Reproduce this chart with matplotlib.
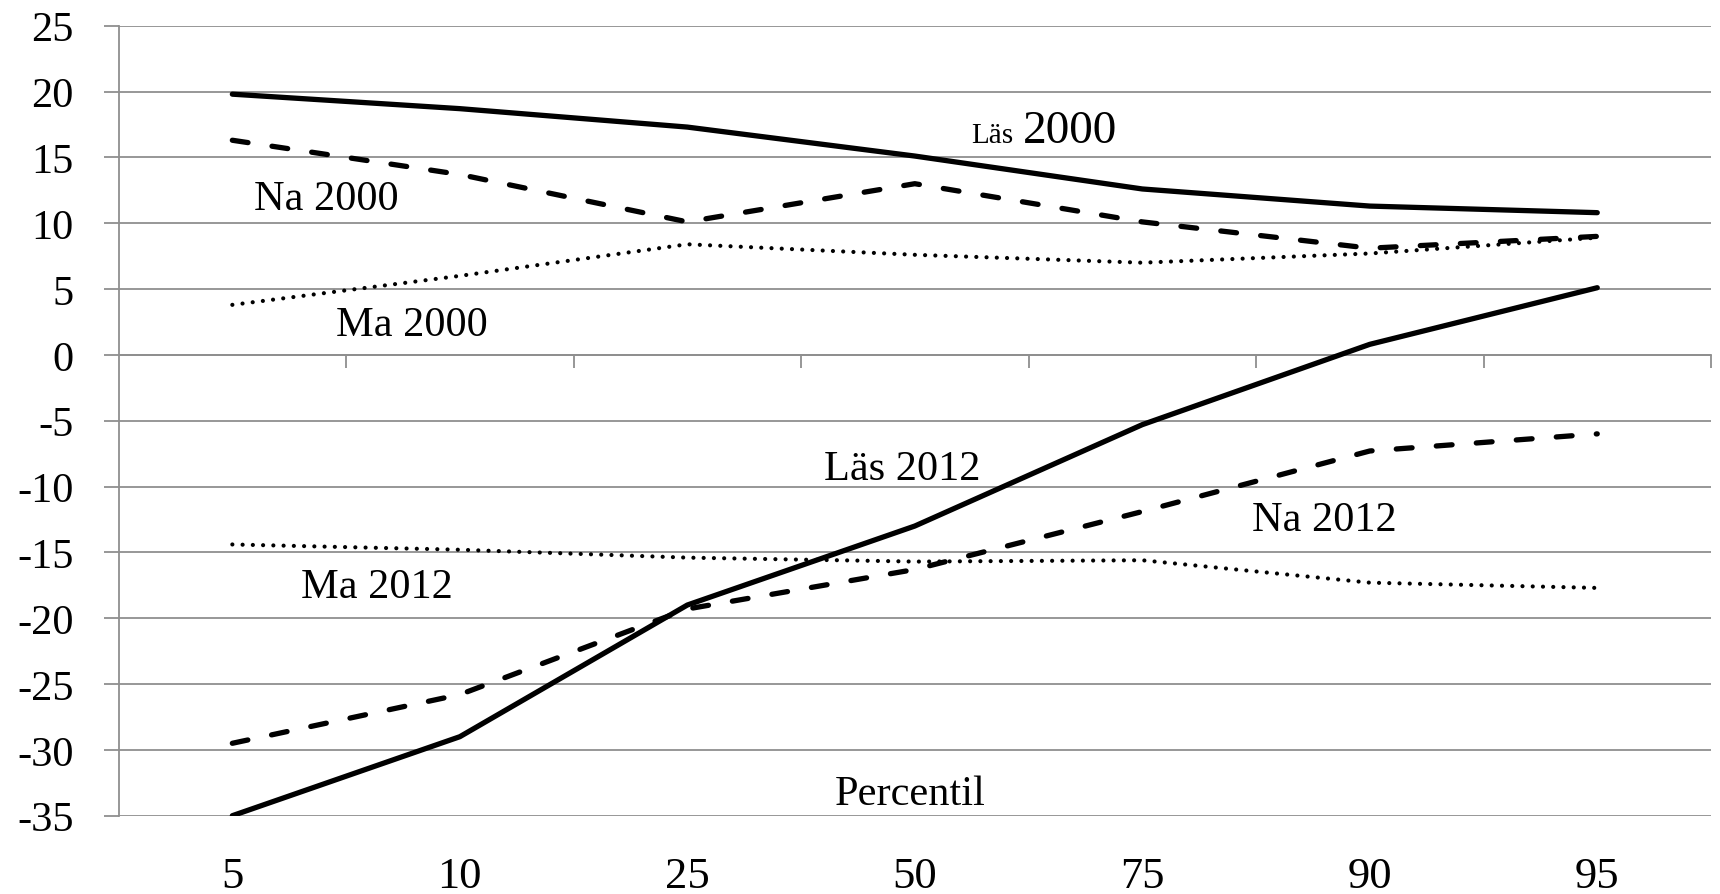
import matplotlib
matplotlib.use("Agg")
import matplotlib.pyplot as plt
from matplotlib.transforms import blended_transform_factory

percentiles = ["5", "10", "25", "50", "75", "90", "95"]
las_2000 = [19.8, 18.7, 17.3, 15.1, 12.6, 11.3, 10.8]
na_2000 = [16.3, 13.7, 10.1, 13.0, 10.1, 8.1, 9.0]
ma_2000 = [3.8, 6.0, 8.4, 7.6, 7.0, 7.7, 8.9]
las_2012 = [-35.0, -29.0, -19.0, -13.0, -5.3, 0.8, 5.1]
na_2012 = [-29.5, -25.8, -19.3, -16.3, -11.9, -7.3, -6.0]
ma_2012 = [-14.4, -14.8, -15.4, -15.7, -15.6, -17.3, -17.7]
y_ticks = list(range(-35, 30, 5))

plt.rcParams['font.family'] = ['Liberation Serif', 'DejaVu Serif']

fig = plt.figure(figsize=(17.2, 8.95), dpi=100)
ax = fig.add_axes([118.6 / 1720, 1 - 816.7 / 895, (1711 - 118.6) / 1720, 790 / 895])

grid_c = '#8f8f8f'
x = list(range(len(percentiles)))

solid = dict(color='black', lw=3.8, solid_capstyle='round', solid_joinstyle='round')
dashed = dict(color='black', lw=3.8, linestyle=(0, (3.0, 4.6)), dash_capstyle='round')
dotted = dict(color='black', lw=3.0, linestyle=(0, (0.01, 2.45)), dash_capstyle='round')

ax.plot(x, las_2000, **solid, zorder=3)
ax.plot(x, na_2000, **dashed, zorder=3)
ax.plot(x, ma_2000, **dotted, zorder=3)
ax.plot(x, las_2012, **solid, zorder=3)
ax.plot(x, na_2012, **dashed, zorder=3)
ax.plot(x, ma_2012, **dotted, zorder=3)

ax.set_xlim(-0.5, len(percentiles) - 0.5)
ax.set_ylim(-35, 25)
ax.set_yticks(y_ticks)
ax.set_yticklabels([str(v) for v in y_ticks], fontsize=30.5)
ax.yaxis.grid(True, color=grid_c, lw=1.3)
ax.set_axisbelow(True)

for s in ['top', 'right']:
    ax.spines[s].set_visible(False)
ax.spines['left'].set_color(grid_c)
ax.spines['left'].set_linewidth(1.3)
ax.spines['bottom'].set_position(('data', 0))
ax.spines['bottom'].set_color(grid_c)
ax.spines['bottom'].set_linewidth(1.3)

ax.set_xticks([i - 0.5 for i in range(1, len(percentiles) + 1)])
ax.set_xticklabels([])
ax.tick_params(axis='x', direction='out', length=9.5, width=1.3, color=grid_c)
ax.tick_params(axis='y', direction='out', length=10.5, width=1.3, color=grid_c, pad=22, labelcolor='black')

trans = blended_transform_factory(ax.transData, ax.transAxes)
for i, lab in enumerate(percentiles):
    ax.text(i, -0.0903, lab, transform=trans, ha='center', va='baseline', fontsize=32)

fs = 30.5
ax.text(0.097, 11.08, "Na 2000", fontsize=fs, ha='left', va='baseline')
ax.text(0.456, 1.51, "Ma 2000", fontsize=fs, ha='left', va='baseline')
ax.text(0.304, -18.38, "Ma 2012", fontsize=fs, ha='left', va='baseline')
ax.text(2.60, -9.42, "Läs 2012", fontsize=fs, ha='left', va='baseline')
ax.text(4.482, -13.27, "Na 2012", fontsize=fs, ha='left', va='baseline')
ax.text(2.648, -34.1, "Percentil", fontsize=fs, ha='left', va='baseline')
ax.text(3.247, 16.17, "Läs", fontsize=21, ha='left', va='baseline')
ax.text(3.475, 16.17, "2000", fontsize=34, ha='left', va='baseline')

fig.savefig("out.png", dpi=100)
